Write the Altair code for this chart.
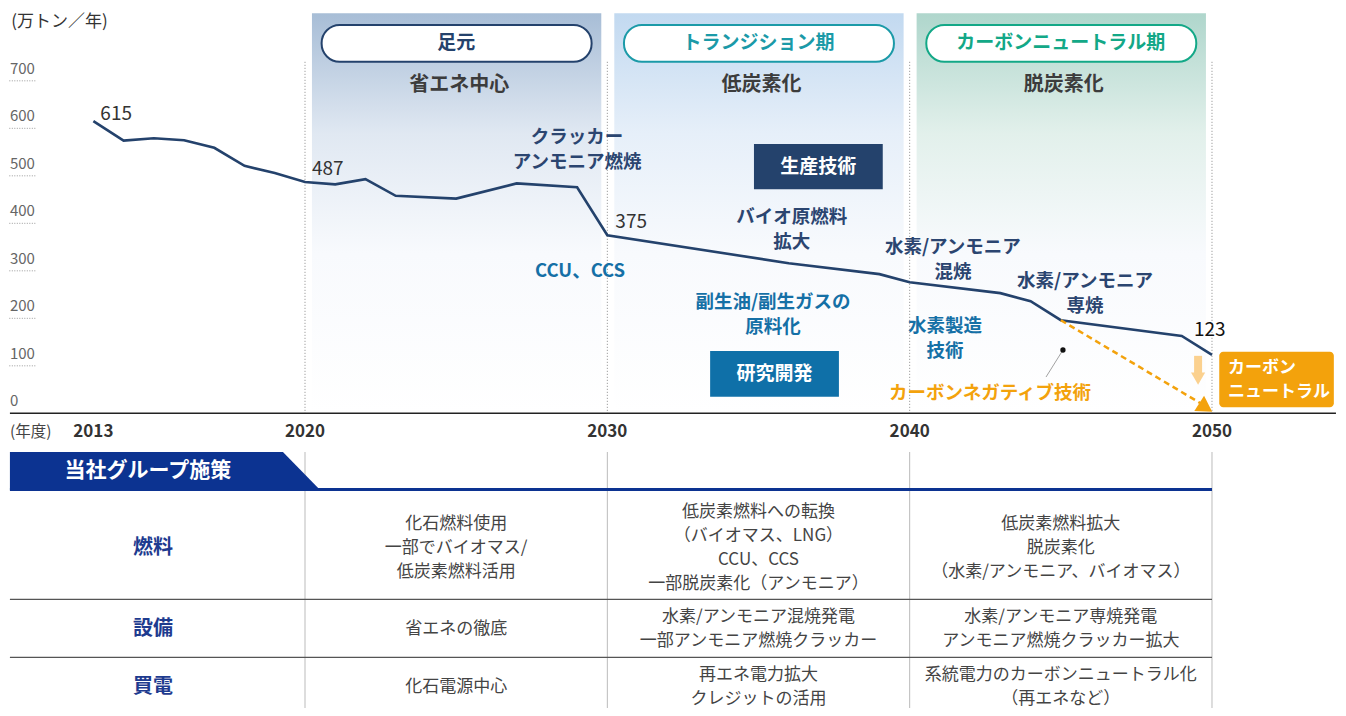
import altair as alt
import pandas as pd

FONT = "Noto Sans CJK JP"

# ---------------- data ----------------
years = [2013, 2014, 2015, 2016, 2017, 2018, 2019, 2020, 2021, 2022, 2023, 2025,
         2027, 2029, 2030, 2036, 2039, 2040, 2043, 2044, 2045, 2049, 2050]
emissions = [615, 574, 579, 575, 559, 521, 506, 487, 482, 493, 458, 452,
             484, 476, 375, 316, 293, 276, 253, 236, 196, 163, 123]
labelled_years = [2013, 2020, 2030, 2050]
y_tick_values = [0, 100, 200, 300, 400, 500, 600, 700]
x_tick_years = [2013, 2020, 2030, 2040, 2050]
period_starts = [2020, 2030, 2040]
period_names = ["足元", "トランジション期", "カーボンニュートラル期"]
period_themes = ["省エネ中心", "低炭素化", "脱炭素化"]
divider_years = [2020, 2030, 2040, 2050]

navy_notes = ["クラッカー\nアンモニア燃焼", "バイオ原燃料\n拡大", "水素/アンモニア\n混焼", "水素/アンモニア\n専焼"]
blue_notes = ["CCU、CCS", "副生油/副生ガスの\n原料化", "水素製造\n技術"]
box_labels = ["生産技術", "研究開発"]
negative_label = "カーボンネガティブ技術"
neutral_label = "カーボン\nニュートラル"

table_title = "当社グループ施策"
row_labels = ["燃料", "設備", "買電"]
cells = [
    ["化石燃料使用\n一部でバイオマス/\n低炭素燃料活用",
     "低炭素燃料への転換\n（バイオマス、LNG）\nCCU、CCS\n一部脱炭素化（アンモニア）",
     "低炭素燃料拡大\n脱炭素化\n（水素/アンモニア、バイオマス）"],
    ["省エネの徹底",
     "水素/アンモニア混焼発電\n一部アンモニア燃焼クラッカー",
     "水素/アンモニア専焼発電\nアンモニア燃焼クラッカー拡大"],
    ["化石電源中心",
     "再エネ電力拡大\nクレジットの活用",
     "系統電力のカーボンニュートラル化\n（再エネなど）"],
]
column_centers = [2025, 2035, 2045]

# ---------------- layout / style ----------------
NAVY = "#24426c"
NAVY_TXT = "#2b4570"
BLUE = "#1570a6"
BLUE_BOX = "#0f70a8"
ORANGE = "#f3a20c"
LIGHT_ORANGE = "#fbd18f"
BANNER = "#0c3391"
ROWLBL = "#1e3b8f"
period_colors = ["#24426c", "#1b9aa8", "#13a887"]
period_tops = ["#a7bdd6", "#c2d9f0", "#afd6cc"]
period_mids = ["#e0e8f2", "#e6eff9", "#e2f0eb"]

Y_DOMAIN = [-620.4, 853.3]
PLOT_H = 700
PX_PER_UNIT = PLOT_H / (Y_DOMAIN[1] - Y_DOMAIN[0])

XS = alt.Scale(domain=[2010.1764, 2054.1676], nice=False, zero=False)
YS = alt.Scale(domain=Y_DOMAIN, nice=False, zero=False)
TS = alt.Scale(domain=[8, 708], nice=False, zero=False, reverse=True)
LEFT = 2010.24


def first_line(center, text, lh, units_per_px=1.0, sign=1):
    """anchor of the first line so that a multi-line block is centred on `center`"""
    n = text.count("\n") + 1
    return center + sign * (n - 1) * lh / 2 * units_per_px


def X(f="x"):
    return alt.X(f"{f}:Q", scale=XS, axis=None)


def Y(f="y", s=YS):
    return alt.Y(f"{f}:Q", scale=s, axis=None)


def texts(df, scale=YS, **mk):
    props = dict(font=FONT, lineBreak="\n")
    props.update(mk)
    return alt.Chart(df).mark_text(**props).encode(x=X(), y=Y("y", scale), text="t:N")


def rects(df, scale=YS, **mk):
    return alt.Chart(df).mark_rect(**mk).encode(x=X(), x2="x2:Q", y=Y("y", scale), y2="y2:Q")


def rules(df, scale=YS, **mk):
    return alt.Chart(df).mark_rule(**mk).encode(x=X(), x2="x2:Q", y=Y("y", scale), y2="y2:Q")


layers = []

# period panels with gradient
for s, top, mid in zip(period_starts, period_tops, period_mids):
    grad = alt.LinearGradient(
        gradient="linear", x1=0, x2=0, y1=0, y2=1,
        stops=[alt.GradientStop(color=top, offset=0),
               alt.GradientStop(color=mid, offset=0.3),
               alt.GradientStop(color="#f8fafd", offset=0.6),
               alt.GradientStop(color="#ffffff", offset=1)])
    layers.append(rects(pd.DataFrame({"x": [s + 0.23], "x2": [s + 9.8], "y": [842], "y2": [0]}),
                        fill=grad))

# dotted period dividers
layers.append(alt.Chart(pd.DataFrame({"x": divider_years, "y": 740, "y2": 0}))
              .mark_rule(color="#8a8a8a", strokeDash=[1, 2], strokeWidth=1)
              .encode(x=X(), y=Y(), y2="y2:Q"))

# pills
for s, name, col, theme in zip(period_starts, period_names, period_colors, period_themes):
    layers.append(rects(pd.DataFrame({"x": [s + 0.55], "x2": [s + 9.48], "y": [740.2], "y2": [817.5]}),
                        fill="white", stroke=col, strokeWidth=2, cornerRadius=18))
    layers.append(texts(pd.DataFrame({"x": [s + 5.0], "y": [779.6], "t": [name]}),
                        fontSize=19, fontWeight="bold", color=col))
    layers.append(texts(pd.DataFrame({"x": [s + 5.1], "y": [691], "t": [theme]}),
                        fontSize=20, fontWeight="bold", color="#3c3c3c"))

# y tick labels with dotted underline
layers.append(texts(pd.DataFrame({"x": LEFT, "y": y_tick_values, "t": [str(v) for v in y_tick_values]}),
                    fontSize=15, color="#666666", align="left", baseline="alphabetic", dy=-7))
layers.append(rules(pd.DataFrame({"x": 2010.22, "x2": 2011.1, "y": y_tick_values[1:], "y2": y_tick_values[1:]}),
                    color="#9a9a9a", strokeDash=[1, 1.5], strokeWidth=1))
layers.append(texts(pd.DataFrame({"x": [2010.28], "y": [823], "t": ["(万トン／年)"]}),
                    fontSize=17, color="#333333", align="left"))

# x axis line and labels
layers.append(rules(pd.DataFrame({"x": [LEFT], "x2": [2054.1], "y": [0], "y2": [0]}),
                    color="#222222", strokeWidth=1.5))
layers.append(texts(pd.DataFrame({"x": x_tick_years, "y": 0, "t": [str(v) for v in x_tick_years]}),
                    fontSize=17, fontWeight="bold", color="#333333", dy=19))
layers.append(texts(pd.DataFrame({"x": [LEFT], "y": [0], "t": ["(年度)"]}),
                    fontSize=15.5, color="#444444", align="left", dy=19))

# emissions line
df_line = pd.DataFrame({"x": years, "y": emissions})
layers.append(alt.Chart(df_line).mark_line(color=NAVY, strokeWidth=2.6)
              .encode(x=X(), y=Y()))

# value labels
offsets = {2013: (7, -7), 2020: (7, -13), 2030: (8, -13), 2050: (-18, -25)}
for yr in labelled_years:
    v = emissions[years.index(yr)]
    dx, dy = offsets[yr]
    layers.append(texts(pd.DataFrame({"x": [yr], "y": [v], "t": [str(v)]}),
                        fontSize=19, color="#111111" if yr == 2050 else "#333333",
                        align="left", dx=dx, dy=dy))

U = 1 / PX_PER_UNIT
# navy / blue notes (block centres)
LH = 25
navy_at = [(2029.0, 556), (2036.1, 387), (2041.43, 324), (2045.8, 253)]
layers.append(texts(pd.DataFrame({"x": [p[0] for p in navy_at],
                                  "y": [first_line(p[1], t, LH, U) for p, t in zip(navy_at, navy_notes)],
                                  "t": navy_notes}),
                    fontSize=18.5, fontWeight="bold", color=NAVY_TXT, lineHeight=LH))
blue_at = [(2029.1, 300), (2035.48, 209), (2041.17, 158.5)]
layers.append(texts(pd.DataFrame({"x": [p[0] for p in blue_at],
                                  "y": [first_line(p[1], t, LH, U) for p, t in zip(blue_at, blue_notes)],
                                  "t": blue_notes}),
                    fontSize=18.5, fontWeight="bold", color=BLUE, lineHeight=LH))

# boxes
box_pos = [(2034.85, 2039.11, 471.6, 567.0), (2033.40, 2037.66, 34.9, 131.2)]
for lbl, (x1, x2, y1, y2), col in zip(box_labels, box_pos, [NAVY, BLUE_BOX]):
    layers.append(rects(pd.DataFrame({"x": [x1], "x2": [x2], "y": [y1], "y2": [y2]}), fill=col))
    layers.append(texts(pd.DataFrame({"x": [(x1 + x2) / 2], "y": [(y1 + y2) / 2], "t": [lbl]}),
                        fontSize=19, fontWeight="bold", color="white"))

# carbon negative path
layers.append(rules(pd.DataFrame({"x": [2045], "x2": [2049.6], "y": [196], "y2": [22]}),
                    color=ORANGE, strokeDash=[6, 4], strokeWidth=2.5))
layers.append(alt.Chart(pd.DataFrame({"x": [2049.72], "y": [15]}))
              .mark_point(shape="triangle", angle=123, size=320, filled=True, color=ORANGE, opacity=1)
              .encode(x=X(), y=Y()))
layers.append(rules(pd.DataFrame({"x": [2045.07], "x2": [2044.51], "y": [133.3], "y2": [76.4]}),
                    color="#8a8a8a", strokeWidth=0.8))
layers.append(alt.Chart(pd.DataFrame({"x": [2045.07], "y": [133.3]}))
              .mark_point(shape="circle", size=28, filled=True, color="#111111", opacity=1)
              .encode(x=X(), y=Y()))
layers.append(texts(pd.DataFrame({"x": [2042.66], "y": [42.7], "t": [negative_label]}),
                    fontSize=18.5, fontWeight="bold", color=ORANGE))

# light arrow down
layers.append(alt.Chart(pd.DataFrame({"x": [2049.54], "y": [121], "y2": [82]}))
              .mark_rule(color=LIGHT_ORANGE, strokeWidth=8)
              .encode(x=X(), y=Y(), y2="y2:Q"))
layers.append(alt.Chart(pd.DataFrame({"x": [2049.54], "y": [73]}))
              .mark_point(shape="triangle-down", size=200, filled=True, color=LIGHT_ORANGE, opacity=1)
              .encode(x=X(), y=Y()))

# carbon neutral box
layers.append(rects(pd.DataFrame({"x": [2050.24], "x2": [2054.03], "y": [12.6], "y2": [129.7]}),
                    fill=ORANGE, cornerRadius=4))
layers.append(texts(pd.DataFrame({"x": [2050.53], "y": [first_line(70, neutral_label, 23.5, U)], "t": [neutral_label]}),
                    fontSize=17, fontWeight="bold", color="white", align="left", lineHeight=23.5))

chart_part = alt.layer(*layers)

# ---------------- table ----------------
tl = []
tl.append(alt.Chart(pd.DataFrame({"x": divider_years, "y": 452, "y2": 708}))
          .mark_rule(color="#bbbbbb", strokeWidth=1)
          .encode(x=X(), y=Y("y", TS), y2="y2:Q"))
tl.append(alt.Chart(pd.DataFrame({"x": [LEFT, 2019.27, 2020.50], "y": [452, 452, 490], "y2": [490, 490, 490]}))
          .mark_area(color=BANNER, opacity=1)
          .encode(x=X(), y=Y("y", TS), y2="y2:Q"))
tl.append(rules(pd.DataFrame({"x": [LEFT], "x2": [2050], "y": [489.5], "y2": [489.5]}), TS,
                color=BANNER, strokeWidth=3))
tl.append(texts(pd.DataFrame({"x": [2014.8], "y": [471], "t": [table_title]}), TS,
                fontSize=21, fontWeight="bold", color="white"))
tl.append(rules(pd.DataFrame({"x": LEFT, "x2": 2050, "y": [599.3, 657.3], "y2": [599.3, 657.3]}), TS,
                color="#555555", strokeWidth=1.3))
row_centers = [548, 629, 687]
tl.append(texts(pd.DataFrame({"x": 2014.97, "y": row_centers, "t": row_labels}), TS,
                fontSize=20, fontWeight="bold", color=ROWLBL))
TLH = 24
cell_rows = []
for rc, row in zip(row_centers, cells):
    for cx, t in zip(column_centers, row):
        cell_rows.append({"x": cx, "y": first_line(rc, t, TLH, 1.0, sign=-1), "t": t})
tl.append(texts(pd.DataFrame(cell_rows), TS, fontSize=17, color="#444444", lineHeight=TLH))

table_part = alt.layer(*tl)

chart = (alt.layer(chart_part, table_part)
         .resolve_scale(y="independent")
         .properties(width=1330, height=700, padding=0,
                     autosize=alt.AutoSizeParams(type="none"))
         .configure_view(stroke=None))

chart.save("out.html", embed_options={"renderer": "svg", "actions": False})
